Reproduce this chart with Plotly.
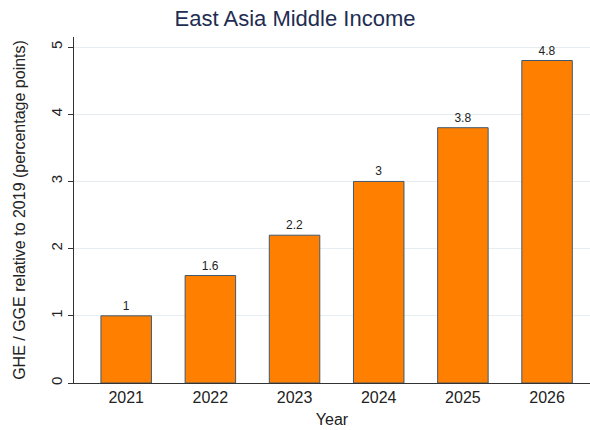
import plotly.graph_objects as go

years = ["2021", "2022", "2023", "2024", "2025", "2026"]
values = [1.0, 1.6, 2.2, 3.0, 3.8, 4.8]
labels = ["1", "1.6", "2.2", "3", "3.8", "4.8"]
y_ticks = [0, 1, 2, 3, 4, 5]

fig = go.Figure(
    go.Bar(
        x=years,
        y=values,
        text=labels,
        textposition="outside",
        textfont=dict(family="Liberation Sans, Arial", size=12, color="#222222"),
        cliponaxis=False,
        width=0.6,
        marker=dict(color="#ff7f00", line=dict(color="#3f5a70", width=1)),
    )
)

fig.update_layout(
    width=590,
    height=430,
    margin=dict(l=74, r=0, t=37, b=47),
    paper_bgcolor="white",
    plot_bgcolor="white",
    font=dict(family="Liberation Sans, Arial", color="#222222"),
    title=dict(
        text="East Asia Middle Income",
        x=0.5,
        xanchor="center",
        y=0.957,
        yanchor="middle",
        font=dict(size=22, color="#1e2d52"),
    ),
    showlegend=False,
    bargap=0.4,
)

fig.update_xaxes(
    type="category",
    range=[-0.62, 5.51],
    showline=True,
    linecolor="#333333",
    linewidth=1,
    ticks="",
    tickfont=dict(size=16, color="#222222"),
    title=dict(text="Year", font=dict(size=16, color="#222222"), standoff=8),
)

fig.update_yaxes(
    range=[0, 5.15],
    tickvals=y_ticks,
    ticktext=[str(v) for v in y_ticks],
    tickangle=-90,
    ticks="outside",
    ticklen=5,
    tickcolor="#333333",
    showline=True,
    linecolor="#333333",
    linewidth=1,
    showgrid=True,
    gridcolor="#e6eef1",
    gridwidth=1,
    zeroline=False,
    tickfont=dict(size=15, color="#222222"),
    title=dict(
        text="GHE / GGE relative to 2019 (percentage points)",
        font=dict(size=16, color="#222222"),
        standoff=18,
    ),
)

fig.write_html("out.html")
